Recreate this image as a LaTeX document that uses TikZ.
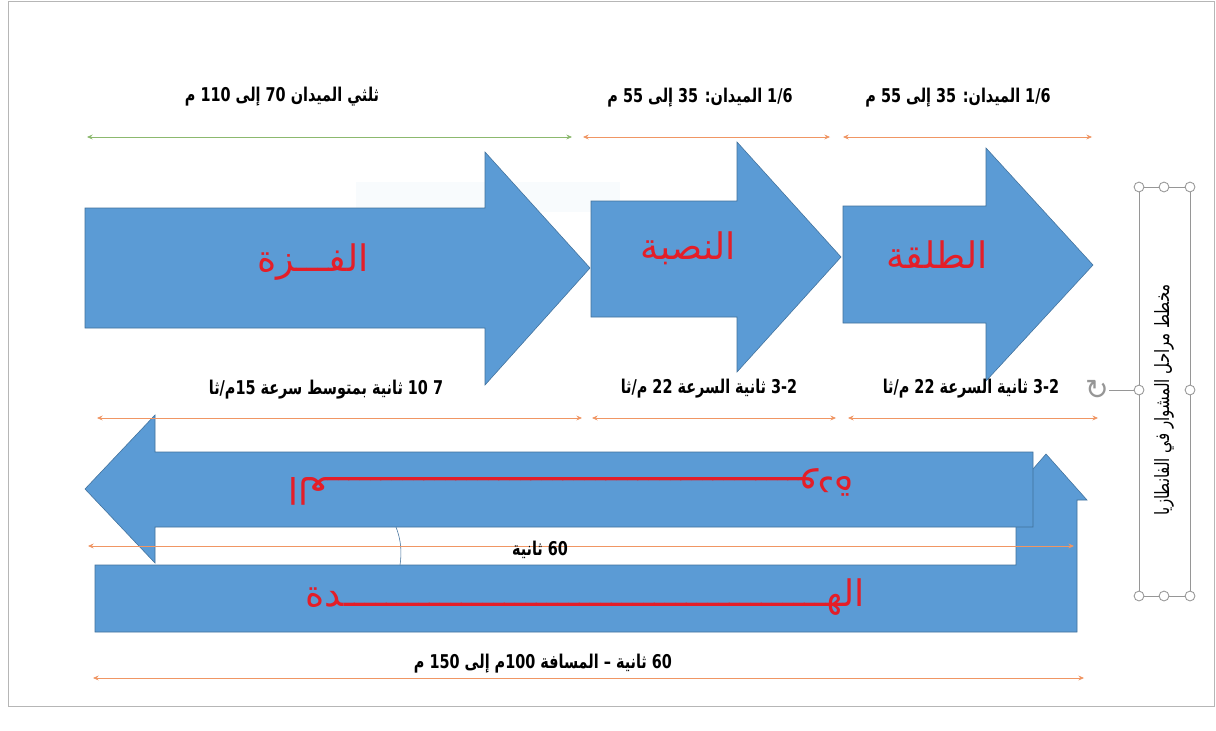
\documentclass[tikz,border=0pt]{standalone}
\usepackage{fontspec}
\usepackage{graphicx}
\usetikzlibrary{arrows.meta}
\usetikzlibrary{positioning}
\TeXXeTstate=1
\newfontfamily\arabicfont[Script=Arabic]{DejaVu Sans}
\newfontfamily\symfont{DejaVu Sans}
\definecolor{shapeblue}{RGB}{91,155,213}
\definecolor{shapeline}{RGB}{65,113,156}
\definecolor{labelred}{RGB}{228,30,40}
\definecolor{dimgreen}{RGB}{140,185,110}
\definecolor{dimorange}{RGB}{240,150,100}
\definecolor{framegray}{RGB}{150,150,150}
\tikzstyle{phase}=[fill=shapeblue,draw=shapeline,line width=0.4pt]
\tikzstyle{phasename}=[text=labelred,font=\arabicfont\fontsize{26}{32}\selectfont,inner sep=0pt]
\tikzstyle{dimline}=[draw,line width=0.6pt,{Stealth[length=4pt,width=3.5pt]}-{Stealth[length=4pt,width=3.5pt]}]
\tikzstyle{dimtext}=[font=\arabicfont\bfseries\fontsize{13.5}{15}\selectfont,inner sep=0pt]
\tikzstyle{handle}=[circle,draw=framegray,fill=white,minimum size=7pt,inner sep=0pt,line width=0.6pt]
\def\kas{ـــــــــــــ}
\newcommand\narrow[1]{\scalebox{0.76}[1]{\beginR#1\endR}}

\begin{document}
\begin{tikzpicture}[x=0.025cm,y=-0.025cm]
  \useasboundingbox (0,0) rectangle (1216,730);
  \fill[white] (0,0) rectangle (1216,730);
  \draw[framegray!70, line width=0.6pt] (8,1) -- (1214,1) -- (1214,706) -- (8,706) -- cycle;

  % faint box behind the first arrow
  \fill[shapeblue!4] (356,182) rectangle (620,212);

  % three phases, left to right
  \path[phase] (85,208) -- (485,208) -- (485,152) -- (590,268) -- (485,385) -- (485,328) -- (85,328) -- cycle;
  \path[phase] (591,201) -- (737,201) -- (737,142) -- (841,257) -- (737,372) -- (737,317) -- (591,317) -- cycle;
  \path[phase] (843,206) -- (986,206) -- (986,148) -- (1093,265) -- (986,381) -- (986,323) -- (843,323) -- cycle;

  % turn and way back
  \path[phase] (95,565) -- (1016,565) -- (1016,500) -- (1006,500) -- (1046,454) -- (1087,500) -- (1077,500) -- (1077,632) -- (95,632) -- cycle;
  \path[phase] (1033,452) -- (155,452) -- (155,415) -- (85,489) -- (155,563) -- (155,527) -- (1033,527) -- cycle;
  \draw[shapeline, line width=0.4pt] (396,527) .. controls (401,540) and (402,552) .. (400,565);

  \foreach \x/\y/\name/\label in {313/262/fazza/{الفـــزة}, 688/248/nasba/{النصبة}, 937/255/talqa/{الطلقة}}
          \node[phasename] (\name) at (\x,\y) {\beginR\label\endR};
  \node[phasename, rotate=180] (awda) at (571,487) {\beginR العـ\kas\kas\kas ــــودة\endR};
  \node[phasename] (hadda) at (585,597) {\beginR الهـ\kas\kas\kas ـــــدة\endR};

  % distances and times
  \foreach \xa/\xb/\y/\name/\col in {87/572/137/dA/dimgreen, 583/830/137/dB/dimorange, 843/1092/137/dC/dimorange,
                                     97/582/418/dD/dimorange, 592/836/418/dE/dimorange, 848/1098/418/dF/dimorange,
                                     88/1074/546/dG/dimorange, 93/1084/678/dH/dimorange}
  {
     \coordinate (\name-l) at (\xa,\y);
     \coordinate (\name-r) at (\xb,\y);
     \path[dimline, \col] (\name-l) -- (\name-r);
  }

  \foreach \x/\y/\name/\label in {282/97/tA/{ثلثي الميدان 70 إلى 110 م}, 700/98/tB/{1/6 الميدان: 35 إلى 55 م}, 958/98/tC/{1/6 الميدان: 35 إلى 55 م},
                                  326/390/tD/{7 10 ثانية بمتوسط سرعة 15م/ثا}, 709/389/tE/{3-2 ثانية السرعة 22 م/ثا}, 971/389/tF/{3-2 ثانية السرعة 22 م/ثا},
                                  540/550/tG/{60 ثانية}, 543/664/tH/{60 ثانية – المسافة 100م إلى 150 م}}
          \node[dimtext] (\name) at (\x,\y) {\narrow{\label}};

  % selected title box
  \draw[framegray, line width=0.6pt] (1139,187) rectangle (1190,596);
  \node[dimtext, font=\arabicfont\fontsize{14}{16}\selectfont, rotate=90] (title) at (1164,400) {\narrow{مخطط مراحل المشوار في الفانطازيا}};
  \foreach \x/\y/\name in {1139/187/h1, 1164/187/h2, 1190/187/h3, 1139/390/h4, 1190/390/h5, 1139/596/h6, 1164/596/h7, 1190/596/h8}
          \node[handle] (\name) at (\x,\y) {};
  \node[text=framegray, font=\symfont\fontsize{20}{20}\selectfont, inner sep=0pt] (rot) at (1097,390) {↻};
  \draw[framegray, line width=0.6pt] (rot) -- (h4);

\end{tikzpicture}
\end{document}
